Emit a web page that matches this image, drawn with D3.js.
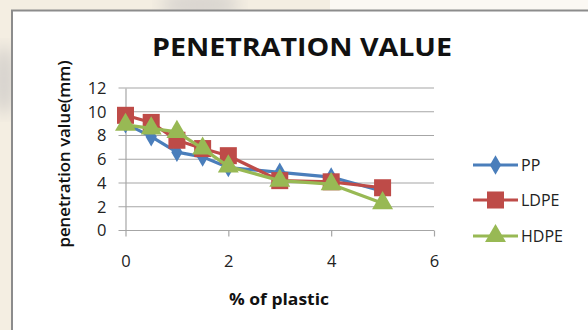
<!DOCTYPE html>
<html><head><meta charset="utf-8">
<script src="https://cdn.jsdelivr.net/npm/d3@7"></script>
<style>body{margin:0;padding:0;overflow:hidden;background:#f5efe4;}svg{display:block;}</style>
</head><body>
<script>
const xValues = [0, 0.5, 1, 1.5, 2, 3, 4, 5];
const ppValues = [9.0, 7.9, 6.6, 6.2, 5.3, 4.9, 4.5, 3.3];
const ldpeValues = [9.7, 9.1, 7.6, 6.9, 6.3, 4.2, 4.1, 3.6];
const hdpeValues = [8.9, 8.6, 8.3, 6.9, 5.4, 4.2, 3.9, 2.3];
const seriesNames = ["PP", "LDPE", "HDPE"];
const xTicks = [0, 2, 4, 6];
const yTicks = [0, 2, 4, 6, 8, 10, 12];

const W = 588, H = 330;
const svg = d3.select("body").append("svg").attr("width", W).attr("height", H);

// background
const defs = svg.append("defs");
defs.append("filter").attr("id","blur").append("feGaussianBlur").attr("stdDeviation", 8);
svg.append("rect").attr("width", W).attr("height", H).attr("fill", "#f4eee2");
svg.append("ellipse").attr("cx", 200).attr("cy", 5).attr("rx", 40).attr("ry", 14).attr("fill", "#d9d5d0").attr("filter","url(#blur)");
svg.append("ellipse").attr("cx", 4).attr("cy", 80).attr("rx", 12).attr("ry", 35).attr("fill", "#d6d2cd").attr("filter","url(#blur)");
svg.append("rect").attr("x", 330).attr("y", 0).attr("width", 258).attr("height", 12).attr("fill", "#ffffff").attr("opacity", 0.6);

// frame
svg.append("rect").attr("x", 12).attr("y", 10.5).attr("width", 600).attr("height", 340)
  .attr("fill", "#ffffff").attr("stroke", "#8c8c8c").attr("stroke-width", 2);

const x = d3.scaleLinear().domain([0, 6]).range([125.5, 434]);
const y = d3.scaleLinear().domain([0, 12]).range([230.5, 88]);

const font = "Open Sans, Liberation Sans, sans-serif";

// gridlines
svg.append("g").selectAll("line").data(yTicks).join("line")
  .attr("x1", x(0) - 7).attr("x2", x(6))
  .attr("y1", d => y(d)).attr("y2", d => y(d))
  .attr("stroke", "#a6a6a6").attr("stroke-width", 1.2);

// y axis
const yAxis = d3.axisLeft(y).tickValues(yTicks).tickSize(0).tickPadding(19).tickFormat(d3.format("d"));
const gy = svg.append("g").attr("transform", `translate(${x(0)},0)`).call(yAxis);
gy.select(".domain").attr("stroke", "#a6a6a6").attr("stroke-width", 1.2);
gy.selectAll("text").attr("font-family", font).attr("font-size", 16.5).attr("fill", "#222");

// x axis
const xAxis = d3.axisBottom(x).tickValues(xTicks).tickSize(6).tickPadding(19).tickFormat(d3.format("d"));
const gx = svg.append("g").attr("transform", `translate(0,${y(0)})`).call(xAxis);
gx.select(".domain").attr("stroke", "#a6a6a6").attr("stroke-width", 1.2).attr("d", `M${x(0)},0H${x(6)}`);
gx.selectAll(".tick line").attr("stroke", "#a6a6a6").attr("stroke-width", 1.2);
gx.selectAll("text").attr("font-family", font).attr("font-size", 16.5).attr("fill", "#222");

// title & labels
svg.append("text").attr("x", 302).attr("y", 56).attr("text-anchor", "middle")
  .attr("font-family", font).attr("font-weight", "bold").attr("font-size", 25).attr("fill", "#111")
  .attr("textLength", 300).attr("lengthAdjust", "spacingAndGlyphs")
  .text("PENETRATION VALUE");
svg.append("text").attr("x", 279).attr("y", 305).attr("text-anchor", "middle")
  .attr("font-family", font).attr("font-weight", "bold").attr("font-size", 16).attr("fill", "#111")
  .attr("textLength", 100).attr("lengthAdjust", "spacingAndGlyphs")
  .text("% of plastic");
svg.append("text").attr("transform", "translate(70,154) rotate(-90)").attr("text-anchor", "middle")
  .attr("font-family", font).attr("font-weight", 600).attr("font-size", 15.5).attr("fill", "#111")
  .attr("textLength", 187).attr("lengthAdjust", "spacingAndGlyphs")
  .text("penetration value(mm)");

const series = [
  {name: seriesNames[0], values: ppValues, color: "#4a7ebb", marker: "diamond"},
  {name: seriesNames[1], values: ldpeValues, color: "#be4b48", marker: "square"},
  {name: seriesNames[2], values: hdpeValues, color: "#98b954", marker: "triangle"}
];
const symbolFor = m => m === "diamond" ? d3.symbol().type(d3.symbolDiamond).size(110)
  : m === "square" ? d3.symbol().type(d3.symbolSquare).size(290)
  : d3.symbol().type(d3.symbolTriangle).size(190);

const line = d3.line().x(d => x(d[0])).y(d => y(d[1]));
series.forEach(s => {
  const pts = xValues.map((xv, i) => [xv, s.values[i]]);
  const g = svg.append("g");
  g.append("path").attr("d", line(pts)).attr("fill", "none").attr("stroke", s.color).attr("stroke-width", 3.2).attr("stroke-linejoin", "round");
  g.selectAll("path.m").data(pts).join("path").attr("class", "m")
    .attr("transform", d => `translate(${x(d[0])},${y(d[1])})`)
    .attr("d", symbolFor(s.marker)()).attr("fill", s.color);
});

// legend
const legY = [165, 200, 236];
series.forEach((s, i) => {
  const g = svg.append("g").attr("transform", `translate(0,${legY[i]})`);
  g.append("line").attr("x1", 473).attr("x2", 518).attr("y1", 0).attr("y2", 0).attr("stroke", s.color).attr("stroke-width", 3.2);
  g.append("path").attr("transform", "translate(495.5,0)").attr("d", symbolFor(s.marker)()).attr("fill", s.color);
  g.append("text").attr("x", 521).attr("y", 0).attr("dy", "0.36em")
    .attr("font-family", font).attr("font-size", 16).attr("fill", "#222").text(s.name);
});
</script>
</body></html>
